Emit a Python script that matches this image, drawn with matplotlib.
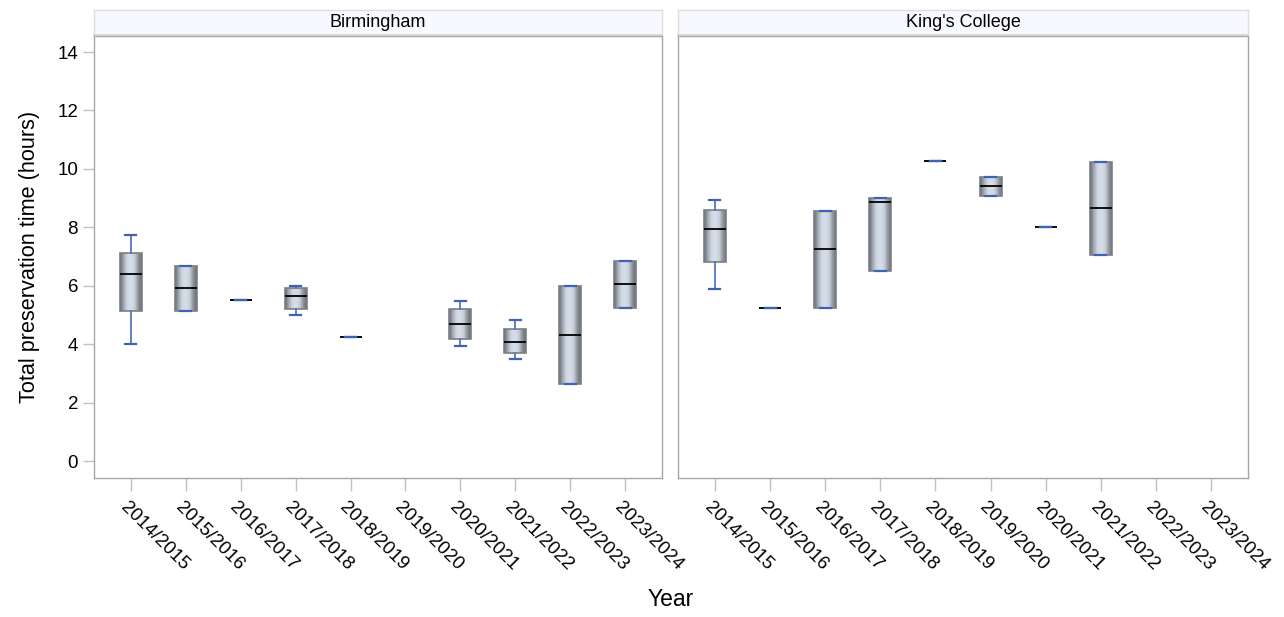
import numpy as np
import matplotlib
matplotlib.use("Agg")
import matplotlib.pyplot as plt
from matplotlib.colors import LinearSegmentedColormap
import matplotlib.transforms as mtransforms

plt.rcParams['font.family'] = ['Liberation Sans', 'DejaVu Sans']

years = ["2014/2015", "2015/2016", "2016/2017", "2017/2018", "2018/2019",
         "2019/2020", "2020/2021", "2021/2022", "2022/2023", "2023/2024"]
panels = ["Birmingham", "King's College"]

# (whisker_low, q1, median, q3, whisker_high); None = no data
birmingham = [
    (4.00, 5.14, 6.40, 7.12, 7.74),
    (5.14, 5.14, 5.92, 6.68, 6.68),
    (5.51, 5.51, 5.51, 5.51, 5.51),
    (5.00, 5.20, 5.65, 5.92, 6.00),
    (4.25, 4.25, 4.25, 4.25, 4.25),
    None,
    (3.94, 4.18, 4.69, 5.20, 5.48),
    (3.49, 3.70, 4.08, 4.52, 4.83),
    (2.64, 2.64, 4.31, 6.00, 6.00),
    (5.24, 5.24, 6.06, 6.85, 6.85),
]
kings = [
    (5.89, 6.82, 7.95, 8.60, 8.94),
    (5.24, 5.24, 5.24, 5.24, 5.24),
    (5.24, 5.24, 7.26, 8.56, 8.56),
    (6.51, 6.51, 8.87, 9.00, 9.00),
    (10.27, 10.27, 10.27, 10.27, 10.27),
    (9.08, 9.08, 9.42, 9.73, 9.73),
    (8.01, 8.01, 8.01, 8.01, 8.01),
    (7.05, 7.05, 8.66, 10.24, 10.24),
    None,
    None,
]
yticks = [0, 2, 4, 6, 8, 10, 12, 14]

W, H = 1284, 617
fig = plt.figure(figsize=(W / 100, H / 100), dpi=100)

def frac(x0, y0, x1, y1):
    return [x0 / W, 1 - y1 / H, (x1 - x0) / W, (y1 - y0) / H]

ax_rects = [frac(94, 36, 662, 478), frac(678, 36, 1248, 478)]
strip_rects = [frac(94, 10, 662, 35), frac(678, 10, 1248, 35)]

cmap = LinearSegmentedColormap.from_list(
    "cyl", ["#666b71", "#a4abb5", "#d0d8e3", "#d6deea", "#c8d0db", "#8f959d", "#666b71"])
grad = np.linspace(0, 1, 64).reshape(1, -1)

edge_gray = "#a6a6a6"
blue = "#3f63b4"

for pi, (name, data) in enumerate(zip(panels, [birmingham, kings])):
    ax = fig.add_axes(ax_rects[pi])
    stats = []
    pos = []
    for i, d in enumerate(data):
        if d is None:
            continue
        lo, q1, med, q3, hi = d
        stats.append(dict(whislo=lo, q1=q1, med=med, q3=q3, whishi=hi, fliers=[]))
        pos.append(i)
    bp = ax.bxp(stats, positions=pos, widths=0.4, patch_artist=True,
                showfliers=False,
                boxprops=dict(facecolor="none", edgecolor="#7a7f86", linewidth=1.2),
                whiskerprops=dict(color="#5676c0", linewidth=1.3),
                capprops=dict(color=blue, linewidth=1.6, zorder=4),
                medianprops=dict(color="black", linewidth=1.3, zorder=3.5),
                capwidths=0.2, zorder=3)
    for patch, p, s in zip(bp['boxes'], pos, stats):
        if s['q3'] - s['q1'] > 0:
            im = ax.imshow(grad, cmap=cmap, aspect='auto',
                           extent=[p - 0.2, p + 0.2, s['q1'], s['q3']],
                           zorder=2.5, interpolation='bicubic')
            im.set_clip_path(patch)
    ax.set_xlim(-0.67, 9.67)
    ax.set_ylim(-0.58, 14.55)
    ax.set_xticks(range(len(years)))
    ax.set_xticklabels([])
    off = mtransforms.ScaledTranslation(-8 / 100, -27 / 100, fig.dpi_scale_trans)
    for i, yr in enumerate(years):
        ax.text(i, 0, yr, rotation=-45, ha='left', va='center',
                rotation_mode='anchor', fontsize=13.5,
                transform=ax.get_xaxis_transform() + off, clip_on=False)
    ax.set_yticks(yticks)
    ax.tick_params(axis='x', length=9, color="#c0c0c0", pad=2, width=1)
    ax.tick_params(axis='y', length=8, color="#c0c0c0", labelsize=13.5, width=1)
    for sp in ax.spines.values():
        sp.set_color(edge_gray)
        sp.set_linewidth(1)
    if pi == 1:
        ax.tick_params(axis='y', left=False, labelleft=False)
    else:
        ax.set_ylabel("Total preservation time (hours)", fontsize=15.6, labelpad=12)
    sax = fig.add_axes(strip_rects[pi])
    sax.set_facecolor("#f7f9fe")
    sax.set_xticks([])
    sax.set_yticks([])
    for sp in sax.spines.values():
        sp.set_color("#dcdee3")
        sp.set_linewidth(1)
    sax.spines['bottom'].set_color("#d3d5da")
    sax.spines['bottom'].set_linewidth(1.3)
    sax.text(0.5, 0.5, name, ha='center', va='center', fontsize=13,
             transform=sax.transAxes)

fig.text(671 / W, 1 - 599 / H, "Year", ha='center', va='center', fontsize=16.5)

fig.savefig("out.png", dpi=100)
